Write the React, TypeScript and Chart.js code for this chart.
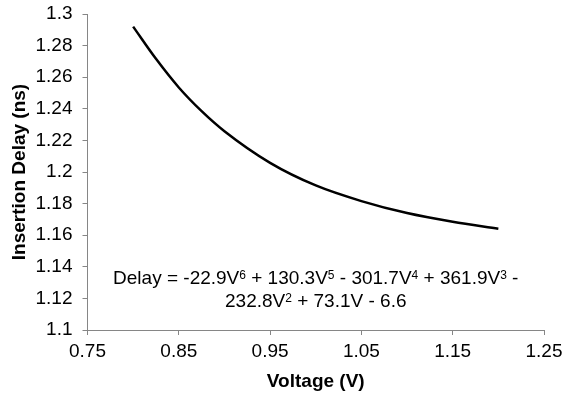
import React, { useEffect, useRef } from "react";
import { Chart, registerables } from "chart.js";

Chart.register(...registerables);

const voltages = [0.8, 0.825, 0.85, 0.875, 0.9, 0.95, 1.0, 1.05, 1.1, 1.15, 1.2];
const delays = [1.292, 1.2716, 1.2535, 1.2385, 1.2258, 1.2058, 1.1915, 1.1816, 1.174, 1.1685, 1.1641];

const xTicks = [0.75, 0.85, 0.95, 1.05, 1.15, 1.25];
const yTickLabels = ["1.1", "1.12", "1.14", "1.16", "1.18", "1.2", "1.22", "1.24", "1.26", "1.28", "1.3"];

const xTitle = "Voltage (V)";
const yTitle = "Insertion Delay (ns)";

// segments: [text, isSuperscript]
const equationLine1: [string, boolean][] = [
  ["Delay = -22.9V", false], ["6", true], [" + 130.3V", false], ["5", true],
  [" - 301.7V", false], ["4", true], [" + 361.9V", false], ["3", true], [" -", false],
];
const equationLine2: [string, boolean][] = [
  ["232.8V", false], ["2", true], [" + 73.1V - 6.6", false],
];
const equationAnchor = { x: 1.0, y1: 1.1323, y2: 1.1177 };

const FONT = "'Liberation Sans', Arial, sans-serif";
const FS = 19;

const equationPlugin = {
  id: "equation",
  afterDatasetsDraw(chart: any) {
    const ctx = chart.ctx;
    const xs = chart.scales.x;
    const ys = chart.scales.y;
    const cx = xs.getPixelForValue(equationAnchor.x);
    const drawLine = (segs: [string, boolean][], yVal: number) => {
      const y = ys.getPixelForValue(yVal);
      const main = `${FS}px ${FONT}`;
      const sup = `12px ${FONT}`;
      let total = 0;
      for (const [t, s] of segs) {
        ctx.font = s ? sup : main;
        total += ctx.measureText(t).width;
      }
      let x = cx - total / 2;
      ctx.save();
      ctx.fillStyle = "#000";
      ctx.textAlign = "left";
      ctx.textBaseline = "middle";
      for (const [t, s] of segs) {
        ctx.font = s ? sup : main;
        ctx.fillText(t, x, s ? y - 3 : y);
        x += ctx.measureText(t).width;
      }
      ctx.restore();
    };
    drawLine(equationLine1, equationAnchor.y1);
    drawLine(equationLine2, equationAnchor.y2);
  },
};

export default function App() {
  const ref = useRef<HTMLCanvasElement>(null);
  useEffect(() => {
    if (!ref.current) return;
    const chart = new Chart(ref.current, {
      type: "line",
      data: {
        datasets: [
          {
            data: voltages.map((v, i) => ({ x: v, y: delays[i] })),
            borderColor: "#000",
            borderWidth: 2.5,
            pointRadius: 0,
            cubicInterpolationMode: "monotone",
            fill: false,
          },
        ],
      },
      options: {
        animation: false,
        responsive: false,
        devicePixelRatio: 1,
        layout: { padding: { left: 0, right: 22, top: 14, bottom: 0 } },
        plugins: { legend: { display: false }, tooltip: { enabled: false } },
        scales: {
          x: {
            type: "linear",
            min: 0.75,
            max: 1.25,
            afterBuildTicks: (scale: any) => {
              scale.ticks = xTicks.map((v) => ({ value: v }));
            },
            afterFit: (scale: any) => {
              scale.height = 63;
              scale.paddingLeft = 0;
              scale.paddingRight = 0;
            },
            ticks: {
              color: "#000",
              font: { family: FONT, size: FS },
              padding: 5,
              maxRotation: 0,
              callback: (v: any) => String(Number(v).toFixed(2)),
            },
            grid: { drawOnChartArea: false, drawTicks: true, tickLength: 5, color: "#868686" },
            border: { color: "#868686", width: 1 },
            title: {
              display: true,
              text: xTitle,
              color: "#000",
              font: { family: FONT, size: FS, weight: "bold" },
              padding: 0,
            },
          },
          y: {
            type: "linear",
            min: 1.1,
            max: 1.3,
            afterBuildTicks: (scale: any) => {
              scale.ticks = yTickLabels.map((t) => ({ value: Number(t) }));
            },
            afterFit: (scale: any) => {
              scale.width = 87.5;
              scale.paddingTop = 0;
              scale.paddingBottom = 0;
            },
            ticks: {
              color: "#000",
              font: { family: FONT, size: FS },
              padding: 10,
              callback: (v: any) => {
                const idx = yTickLabels.findIndex((t) => Math.abs(Number(t) - Number(v)) < 1e-9);
                return idx >= 0 ? yTickLabels[idx] : "";
              },
            },
            grid: { drawOnChartArea: false, drawTicks: true, tickLength: 5, color: "#868686" },
            border: { color: "#868686", width: 1 },
            title: {
              display: true,
              text: yTitle,
              color: "#000",
              font: { family: FONT, size: FS, weight: "bold" },
              padding: 8,
            },
          },
        },
      },
      plugins: [equationPlugin],
    } as any);
    return () => chart.destroy();
  }, []);
  return (
    <div style={{ position: "fixed", left: 0, top: 0, width: 566, height: 393, background: "#fff" }}>
      <canvas ref={ref} width={566} height={393} style={{ width: 566, height: 393 }} />
    </div>
  );
}
